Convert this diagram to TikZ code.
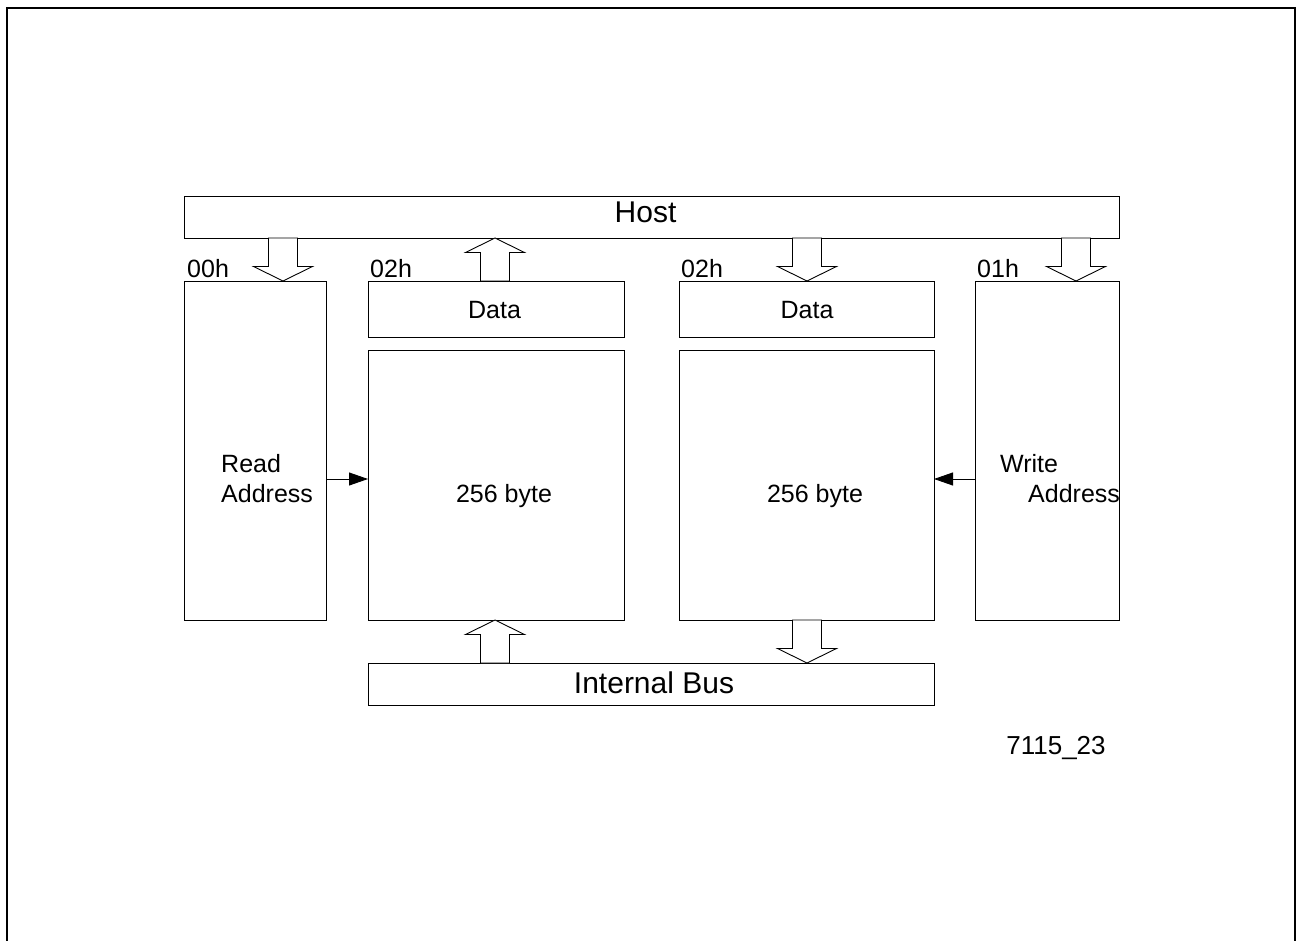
\documentclass[tikz,border=0pt]{standalone}
\usepackage{fontspec}
\setmainfont{Liberation Sans}
\usetikzlibrary{arrows.meta,calc}
\tikzset{
  box/.style={draw=black,line width=0.9pt,inner sep=0pt,outer sep=0pt},
  hollow/.style={draw=black,line width=0.9pt,fill=white,line join=miter},
  frame/.style={draw=black,line width=2.6pt},
  small/.style={font=\fontsize{25}{30}\selectfont,inner sep=0pt},
  big/.style={font=\fontsize{30}{34}\selectfont,inner sep=0pt},
  ptr/.style={draw=black,line width=0.9pt,-{Triangle[length=19pt,width=13pt]}}
}
\newcommand\hdown[2]{\draw[hollow] let \p1=#1, \p2=#2 in
  (\x2-14.5pt,\y1) -- (\x2+14.5pt,\y1) -- (\x2+14.5pt,\y2+14.5pt) -- (\x2+29.5pt,\y2+14.5pt)
  -- (\x2,\y2) -- (\x2-29.5pt,\y2+14.5pt) -- (\x2-14.5pt,\y2+14.5pt) -- cycle;}
\newcommand\hup[2]{\draw[hollow] let \p1=#1, \p2=#2 in
  (\x2-14.5pt,\y1) -- (\x2+14.5pt,\y1) -- (\x2+14.5pt,\y2-14.5pt) -- (\x2+29.5pt,\y2-14.5pt)
  -- (\x2,\y2) -- (\x2-29.5pt,\y2-14.5pt) -- (\x2-14.5pt,\y2-14.5pt) -- cycle;}
\begin{document}
\begin{tikzpicture}[x=1pt,y=-1pt]
\useasboundingbox (0,0) rectangle (1298,941);
% outer frame (open at the bottom)
\draw[frame] (7,941) -- (7,8) -- (1295,8) -- (1295,941);

% boxes
\node[box,minimum width=935pt,minimum height=42pt] (host) at (651.5,217) {};
\node[box,minimum width=142pt,minimum height=339pt] (rdaddr) at (255,450.5) {};
\node[box,minimum width=256pt,minimum height=56pt] (data1) at (496,309) {};
\node[box,minimum width=256pt,minimum height=270pt] (mem1) at (496,485) {};
\node[box,minimum width=255pt,minimum height=56pt] (data2) at (806.5,309) {};
\node[box,minimum width=255pt,minimum height=270pt] (mem2) at (806.5,485) {};
\node[box,minimum width=144pt,minimum height=339pt] (wraddr) at (1047,450.5) {};
\node[box,minimum width=566pt,minimum height=42pt] (ibus) at (651,684) {};

% texts
\node[big,anchor=base] (thost) at (645.5,223) {Host};
\node[big,anchor=base] (tibus) at (654,693) {Internal Bus};
\node[small,anchor=base] (tdata1) at (494.5,318) {Data};
\node[small,anchor=base] (tdata2) at (807,318) {Data};
\node[small,anchor=base] (tmem1) at (504,502) {256 byte};
\node[small,anchor=base] (tmem2) at (815,502) {256 byte};
\node[small,anchor=base west] (t00h) at (187,277) {00h};
\node[small,anchor=base west] (t02a) at (370,277) {02h};
\node[small,anchor=base west] (t02b) at (681,277) {02h};
\node[small,anchor=base west] (t01h) at (977,277) {01h};
\node[small,anchor=base west] (tread) at (221,472) {Read};
\node[small,anchor=base west] (taddr1) at (221,502) {Address};
\node[small,anchor=base west] (twrite) at (1000,472) {Write};
\node[small,anchor=base west] (taddr2) at (1028,502) {Address};
\node[small,anchor=base,font=\fontsize{26}{30}\selectfont] (tid) at (1056,754) {7115\_23};

% x guides for the hollow arrows and y guide for the pointer arrows
\coordinate (ax1) at (283,0);
\coordinate (ax2) at (495,0);
\coordinate (ax3) at (807,0);
\coordinate (ax4) at (1076,0);
\coordinate (py) at (0,479);

% hollow bus arrows
\hdown{(host.south -| ax1)}{(rdaddr.north -| ax1)}
\hup{(data1.north -| ax2)}{(host.south -| ax2)}
\hdown{(host.south -| ax3)}{(data2.north -| ax3)}
\hdown{(host.south -| ax4)}{(wraddr.north -| ax4)}
\hup{(ibus.north -| ax2)}{(mem1.south -| ax2)}
\hdown{(mem2.south -| ax3)}{(ibus.north -| ax3)}

% address pointers
\draw[ptr] (rdaddr.east |- py) -- (mem1.west |- py);
\draw[ptr] (wraddr.west |- py) -- (mem2.east |- py);
\end{tikzpicture}
\end{document}
